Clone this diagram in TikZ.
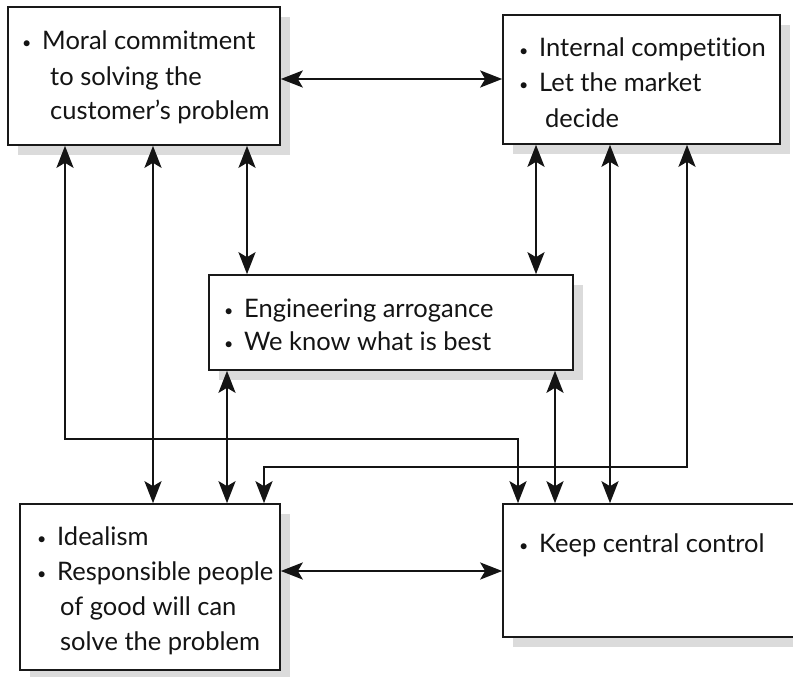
\documentclass[tikz,border=0pt]{standalone}
\usepackage{fontspec}
\setmainfont{Lato}[Ligatures={NoCommon}]
\usetikzlibrary{arrows.meta,shadows}
\newcommand{\bl}{\makebox[20pt][l]{\raisebox{1pt}{\fontsize{16}{16}\selectfont •}}}
\begin{document}
\begin{tikzpicture}[x=1pt,y=-1pt,
  box/.style={draw=black!90, line width=1.6pt, fill=white, inner sep=0pt,
    drop shadow={shadow xshift=10pt, shadow yshift=-10pt, fill=black!14, opacity=1}},
  txt/.style={anchor=base west, inner sep=0pt, font=\fontsize{25.5}{30}\selectfont, text=black!92},
  dbl/.style={line width=2.6pt, draw=black!92, {Stealth[length=22pt,width=17pt,inset=5pt]}-{Stealth[length=22pt,width=17pt,inset=5pt]}}]
\useasboundingbox (0,0) rectangle (793,677);
% boxes
\node[box, minimum width=272pt, minimum height=138pt] (tl) at (144,76) {};
\node[box, minimum width=277pt, minimum height=129pt] (tr) at (641.5,79.5) {};
\node[box, minimum width=364pt, minimum height=95pt] (mid) at (391,322.5) {};
\node[box, minimum width=260pt, minimum height=166pt] (bl) at (150,587) {};
\node[box, minimum width=300pt, minimum height=133pt] (br) at (653,570.5) {};
% texts
\node[txt] (tl1) at (22,50) {\bl Moral commitment};
\node[txt] (tl2) at (50,85) {to solving the};
\node[txt] (tl3) at (50,120) {customer’s problem};
\node[txt] (tr1) at (519,57) {\bl Internal competition};
\node[txt] (tr2) at (519,92) {\bl Let the market};
\node[txt] (tr3) at (545,127) {decide};
\node[txt] (m1) at (224,317) {\bl Engineering arrogance};
\node[txt] (m2) at (224,350) {\bl We know what is best};
\node[txt] (bl1) at (37,545) {\bl Idealism};
\node[txt] (bl2) at (37,580) {\bl Responsible people};
\node[txt] (bl3) at (60,615) {of good will can};
\node[txt] (bl4) at (60,650) {solve the problem};
\node[txt] (br1) at (519,552) {\bl Keep central control};
% helper coordinates
\coordinate (ya) at (0,79);
\coordinate (yb) at (0,571);
\coordinate (x1) at (153,0);
\coordinate (x2) at (247,0);
\coordinate (x3) at (227,0);
\coordinate (x4) at (536,0);
\coordinate (x5) at (555,0);
\coordinate (x6) at (610,0);
\coordinate (ja) at (65,439);
\coordinate (jb) at (518,439);
\coordinate (jc) at (687,467);
\coordinate (jd) at (264,467);
% connectors
\draw[dbl] (tl.east |- ya) -- (tr.west |- ya);
\draw[dbl] (bl.east |- yb) -- (br.west |- yb);
\draw[dbl] (tl.south -| x1) -- (bl.north -| x1);
\draw[dbl] (tl.south -| x2) -- (mid.north -| x2);
\draw[dbl] (mid.south -| x3) -- (bl.north -| x3);
\draw[dbl] (tr.south -| x4) -- (mid.north -| x4);
\draw[dbl] (mid.south -| x5) -- (br.north -| x5);
\draw[dbl] (tr.south -| x6) -- (br.north -| x6);
\draw[dbl] (tl.south -| ja) -- (ja) -- (jb) -- (br.north -| jb);
\draw[dbl] (tr.south -| jc) -- (jc) -- (jd) -- (bl.north -| jd);
\end{tikzpicture}
\end{document}
